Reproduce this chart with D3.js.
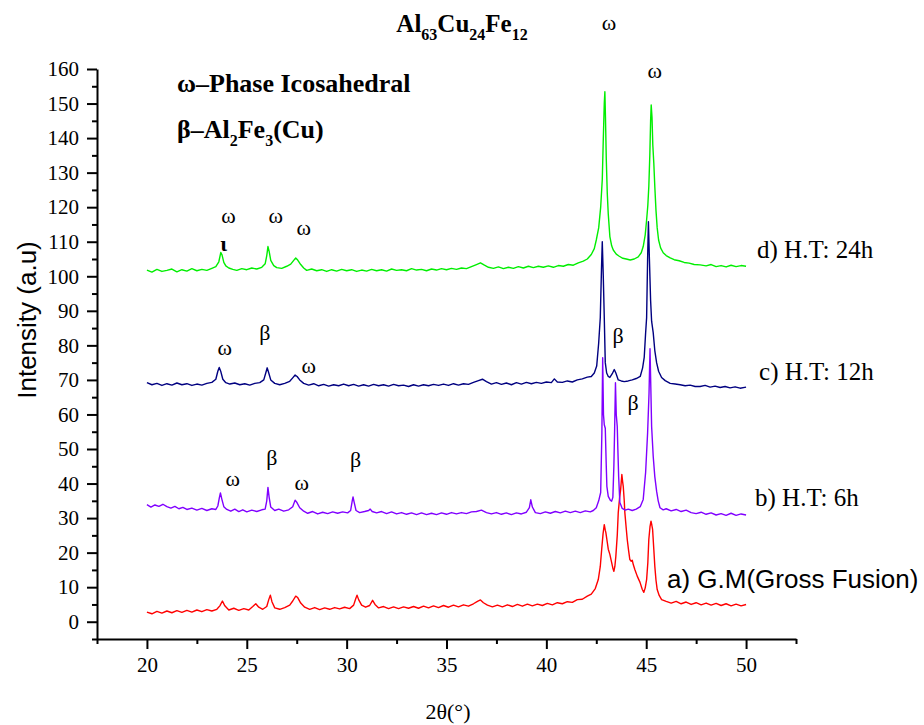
<!DOCTYPE html>
<html>
<head>
<meta charset="utf-8">
<script src="https://cdn.jsdelivr.net/npm/d3@7"></script>
<style>
body{margin:0;background:#fff;}
svg{display:block;}
</style>
</head>
<body>
<svg id="chart" width="924" height="725"></svg>
<script>
// 2theta / intensity
const series_a = [[20,2.8],[20.25,2.3],[20.5,3.0],[20.75,2.5],[21,3.1],[21.25,2.6],[21.5,3.2],[21.75,2.7],[22,3.3],[22.25,2.8],[22.5,3.4],[22.75,2.9],[23,3.5],[23.25,3.1],[23.5,3.6],[23.65,4.6],[23.78,6.0],[23.9,4.6],[24.1,3.4],[24.35,3.9],[24.6,3.3],[24.85,3.8],[25.1,3.4],[25.3,4.4],[25.45,5.2],[25.6,4.2],[25.8,3.6],[26.0,4.4],[26.1,6.4],[26.18,7.7],[26.26,5.8],[26.4,4.0],[26.65,3.6],[26.9,4.1],[27.15,4.8],[27.3,6.0],[27.45,7.4],[27.55,7.0],[27.7,5.4],[27.9,4.2],[28.15,3.6],[28.4,4.1],[28.65,3.5],[28.9,4.0],[29.15,3.6],[29.4,4.1],[29.65,3.7],[29.9,4.2],[30.15,3.8],[30.35,4.8],[30.45,6.6],[30.52,7.7],[30.6,6.4],[30.75,4.8],[30.95,4.2],[31.15,4.7],[31.3,6.2],[31.42,5.0],[31.6,4.0],[31.85,4.4],[32.1,3.8],[32.35,4.3],[32.6,3.8],[32.85,4.3],[33.1,3.9],[33.35,4.4],[33.6,3.9],[33.85,4.5],[34.1,4.0],[34.35,4.6],[34.6,4.1],[34.85,4.7],[35.1,4.2],[35.35,4.8],[35.6,4.3],[35.85,4.9],[36.1,4.5],[36.35,5.2],[36.55,5.9],[36.7,6.3],[36.85,5.5],[37.05,4.8],[37.3,4.3],[37.55,4.8],[37.8,4.3],[38.05,4.9],[38.3,4.4],[38.55,5.0],[38.8,4.5],[39.05,5.1],[39.3,4.6],[39.55,5.1],[39.8,4.7],[40.05,5.3],[40.3,4.9],[40.55,5.5],[40.8,5.2],[41.05,5.8],[41.3,5.6],[41.55,6.4],[41.8,6.5],[42.05,7.4],[42.25,8.0],[42.45,9.6],[42.6,12.2],[42.7,16.0],[42.77,20.9],[42.84,25.5],[42.9,28.1],[42.95,26.5],[42.98,25.8],[43.05,23.0],[43.1,21.0],[43.18,19.5],[43.27,17.1],[43.33,15.5],[43.38,14.6],[43.43,16.0],[43.48,19.0],[43.55,25.0],[43.6,31.6],[43.67,36.0],[43.72,38.3],[43.78,42.6],[43.82,40.5],[43.85,39.2],[43.9,35.0],[43.93,31.6],[44.0,27.0],[44.05,23.8],[44.12,20.5],[44.18,18.0],[44.25,17.5],[44.3,17.8],[44.36,16.4],[44.43,15.1],[44.55,13.2],[44.69,11.4],[44.8,9.4],[44.88,8.5],[44.95,9.8],[45.02,12.2],[45.08,17.0],[45.13,23.8],[45.19,27.5],[45.24,29.1],[45.28,28.0],[45.32,26.7],[45.38,21.0],[45.43,16.1],[45.49,12.0],[45.55,9.3],[45.65,7.6],[45.77,6.4],[46.0,5.9],[46.25,5.4],[46.5,5.9],[46.75,5.2],[47.0,5.7],[47.25,5.0],[47.5,5.5],[47.75,4.9],[48.0,5.4],[48.25,4.8],[48.5,5.3],[48.75,4.7],[49.0,5.2],[49.25,4.6],[49.5,5.1],[49.75,4.6],[50,5.0]];

const series_b = [[20,33.9],[20.2,33.2],[20.4,33.8],[20.6,33.4],[20.8,34.0],[21.0,33.3],[21.2,32.9],[21.4,33.4],[21.6,32.7],[21.8,33.1],[22.0,32.5],[22.25,32.9],[22.5,32.3],[22.75,32.8],[23.0,32.2],[23.25,32.7],[23.45,32.5],[23.55,33.5],[23.63,36.0],[23.68,37.3],[23.75,35.5],[23.85,33.3],[24.0,32.5],[24.2,32.0],[24.4,32.6],[24.6,31.9],[24.8,32.4],[25.0,31.8],[25.25,32.3],[25.5,31.9],[25.75,32.4],[25.92,32.6],[26.0,35.0],[26.06,38.9],[26.12,36.0],[26.2,33.2],[26.4,32.2],[26.6,32.6],[26.85,32.0],[27.1,32.4],[27.3,33.3],[27.42,35.2],[27.5,34.6],[27.65,33.0],[27.85,32.0],[28.05,31.4],[28.3,31.9],[28.55,31.2],[28.8,31.7],[29.05,31.3],[29.3,31.8],[29.55,31.4],[29.8,31.8],[30.05,31.5],[30.2,32.2],[30.28,35.0],[30.32,36.1],[30.38,34.5],[30.47,32.2],[30.65,31.6],[30.9,31.9],[31.1,32.2],[31.18,32.6],[31.28,31.9],[31.5,31.5],[31.75,31.9],[32.0,31.3],[32.25,31.8],[32.5,31.2],[32.75,31.6],[33.0,31.1],[33.25,31.5],[33.5,31.0],[33.75,31.5],[34.0,31.0],[34.25,31.4],[34.5,31.0],[34.75,31.5],[35.0,31.1],[35.25,31.6],[35.5,31.2],[35.75,31.6],[36.0,31.3],[36.25,31.8],[36.5,31.9],[36.75,32.3],[37.0,31.6],[37.25,31.2],[37.5,31.6],[37.75,31.1],[38.0,31.5],[38.25,31.0],[38.5,31.5],[38.75,31.2],[39.0,31.7],[39.15,33.0],[39.22,35.3],[39.3,33.2],[39.45,31.6],[39.7,31.3],[39.95,31.8],[40.2,31.4],[40.45,31.9],[40.7,31.5],[40.95,32.0],[41.2,31.6],[41.45,32.0],[41.7,31.6],[41.95,32.1],[42.2,31.8],[42.35,32.2],[42.5,33.0],[42.62,35.0],[42.72,37.4],[42.78,54.7],[42.82,76.4],[42.86,60.0],[42.9,57.0],[42.95,56.0],[43.0,45.0],[43.03,39.2],[43.1,36.3],[43.2,35.2],[43.27,34.9],[43.33,36.0],[43.38,45.0],[43.42,56.0],[43.46,69.2],[43.5,60.0],[43.55,56.5],[43.58,50.0],[43.62,42.0],[43.68,34.5],[43.8,32.8],[43.95,32.3],[44.1,32.6],[44.3,32.2],[44.5,32.6],[44.7,33.3],[44.85,35.4],[44.97,43.2],[45.07,54.7],[45.14,66.0],[45.19,79.0],[45.23,68.0],[45.27,56.6],[45.35,47.9],[45.43,42.0],[45.52,37.8],[45.6,35.0],[45.69,33.0],[45.85,32.4],[46.0,32.7],[46.25,32.1],[46.5,32.5],[46.75,31.9],[47.0,32.3],[47.25,31.6],[47.5,31.3],[47.75,31.7],[48.0,31.1],[48.25,31.5],[48.5,30.9],[48.75,31.3],[49.0,30.8],[49.25,31.4],[49.5,30.8],[49.75,31.2],[50,30.9]];

const series_c = [[20,69.2],[20.25,68.6],[20.5,69.0],[20.75,68.4],[21,68.9],[21.25,68.5],[21.5,69.1],[21.75,68.6],[22,68.9],[22.25,68.4],[22.5,68.8],[22.75,68.5],[23,69.0],[23.25,69.3],[23.45,70.2],[23.55,72.5],[23.62,73.6],[23.7,72.4],[23.8,70.2],[23.95,69.2],[24.15,68.8],[24.4,69.1],[24.65,68.6],[24.9,68.9],[25.15,68.5],[25.4,69.0],[25.65,69.2],[25.85,70.0],[25.95,72.0],[26.02,73.5],[26.1,72.0],[26.2,70.0],[26.4,69.0],[26.65,68.6],[26.9,69.0],[27.15,69.6],[27.3,70.6],[27.42,71.4],[27.52,71.0],[27.65,70.0],[27.85,69.0],[28.1,68.5],[28.35,68.9],[28.6,68.3],[28.85,68.7],[29.1,68.2],[29.35,68.6],[29.6,68.3],[29.85,68.8],[30.1,68.3],[30.35,68.7],[30.6,68.2],[30.85,68.6],[31.1,68.2],[31.35,68.7],[31.6,68.3],[31.85,68.6],[32.1,68.2],[32.35,68.7],[32.6,68.3],[32.85,68.5],[33.1,68.1],[33.35,68.6],[33.6,68.2],[33.85,68.6],[34.1,68.3],[34.35,68.7],[34.6,68.4],[34.85,68.8],[35.1,68.4],[35.35,68.9],[35.6,68.5],[35.85,68.9],[36.1,68.7],[36.35,69.3],[36.6,69.8],[36.8,70.2],[37.0,69.5],[37.25,68.8],[37.5,69.2],[37.75,68.7],[38.0,69.1],[38.25,68.6],[38.5,69.2],[38.75,68.8],[39.0,69.3],[39.25,68.9],[39.5,69.3],[39.75,69.0],[40.0,69.4],[40.25,69.2],[40.4,70.3],[40.55,69.4],[40.8,69.3],[41.05,69.7],[41.3,69.4],[41.55,70.0],[41.8,70.3],[42.05,70.8],[42.25,71.0],[42.4,72.0],[42.52,74.0],[42.62,80.7],[42.7,88.0],[42.76,102.0],[42.8,110.0],[42.85,100.0],[42.9,88.0],[42.95,75.0],[43.02,72.0],[43.1,71.0],[43.18,70.7],[43.3,71.8],[43.4,73.0],[43.48,72.0],[43.6,70.0],[43.75,69.7],[43.9,69.5],[44.1,69.7],[44.3,70.0],[44.5,70.4],[44.7,71.0],[44.82,73.5],[44.9,76.5],[44.97,83.6],[45.02,88.0],[45.07,105.0],[45.11,115.8],[45.16,105.0],[45.22,93.0],[45.27,87.0],[45.35,83.7],[45.43,78.5],[45.52,75.0],[45.62,72.5],[45.77,70.7],[45.95,69.8],[46.2,69.0],[46.45,68.8],[46.7,68.6],[46.95,68.3],[47.2,68.5],[47.45,68.1],[47.7,68.1],[47.95,68.4],[48.2,67.9],[48.45,68.2],[48.7,67.8],[48.95,68.1],[49.2,67.7],[49.45,68.0],[49.7,67.6],[50,67.9]];

const series_d = [[20,101.8],[20.25,101.2],[20.5,102.0],[20.75,101.4],[21,101.7],[21.25,102.1],[21.5,101.3],[21.75,101.9],[22,101.5],[22.25,102.2],[22.5,101.6],[22.75,102.0],[23,101.7],[23.25,102.3],[23.45,102.8],[23.6,104.2],[23.7,106.9],[23.76,106.2],[23.85,104.0],[23.95,103.0],[24.1,102.4],[24.3,102.0],[24.5,101.7],[24.75,102.2],[25,101.9],[25.25,102.4],[25.5,102.1],[25.75,102.6],[25.92,103.6],[26.0,106.0],[26.06,108.6],[26.12,107.2],[26.2,104.6],[26.35,103.1],[26.5,102.5],[26.75,102.3],[27,102.9],[27.2,103.5],[27.35,104.6],[27.45,105.3],[27.55,104.7],[27.7,103.4],[27.85,102.4],[28,101.7],[28.25,102.1],[28.5,101.6],[28.75,101.9],[29,101.4],[29.25,101.9],[29.5,101.5],[29.75,102.0],[30,101.6],[30.25,101.9],[30.5,101.4],[30.75,101.8],[31,101.5],[31.25,102.0],[31.5,101.6],[31.75,101.9],[32,101.5],[32.25,102.1],[32.5,101.7],[32.75,101.9],[33,101.6],[33.25,102.2],[33.5,101.8],[33.75,102.0],[34,101.6],[34.25,102.1],[34.5,101.8],[34.75,102.2],[35,101.9],[35.25,102.3],[35.5,102.0],[35.75,102.4],[36,102.2],[36.25,102.8],[36.5,103.4],[36.7,103.9],[36.9,103.2],[37.1,102.6],[37.35,102.3],[37.6,102.7],[37.85,102.2],[38.1,102.6],[38.35,102.3],[38.6,102.8],[38.85,102.4],[39.1,102.9],[39.35,102.5],[39.6,102.9],[39.85,102.6],[40.1,103.0],[40.35,102.6],[40.6,103.1],[40.85,102.9],[41.1,103.4],[41.35,103.2],[41.6,103.9],[41.85,104.4],[42.05,105.0],[42.25,106.3],[42.4,108.0],[42.5,110.5],[42.62,114.0],[42.72,120.0],[42.8,128.0],[42.85,139.5],[42.9,150.0],[42.93,153.4],[42.96,146.0],[43.0,134.0],[43.05,124.0],[43.1,118.0],[43.18,111.5],[43.27,108.8],[43.35,107.6],[43.5,106.4],[43.65,105.8],[43.83,105.2],[44.0,105.0],[44.2,104.7],[44.4,105.0],[44.6,105.6],[44.75,106.8],[44.85,108.6],[44.95,112.0],[45.02,116.3],[45.08,120.5],[45.13,126.0],[45.18,135.0],[45.22,145.0],[45.25,149.6],[45.29,146.0],[45.33,138.0],[45.38,132.8],[45.43,126.0],[45.49,119.0],[45.55,114.0],[45.62,110.5],[45.72,108.2],[45.85,106.8],[46.0,106.0],[46.2,105.3],[46.4,104.8],[46.65,104.5],[46.9,104.0],[47.15,103.8],[47.4,103.4],[47.7,103.3],[48,103.0],[48.25,103.4],[48.5,102.8],[48.75,103.1],[49,102.7],[49.25,103.2],[49.5,102.8],[49.75,103.1],[50,102.9]];

const seriesNames = ["a) G.M(Gross Fusion)", "b) H.T: 6h", "c) H.T: 12h", "d) H.T: 24h"];
const seriesColors = ["#ff0000", "#8000ff", "#000080", "#00ee00"];
// where each series label sits, in data units
const seriesLabelPos = [[46.04, 9.9], [50.45, 33.6], [50.65, 70.1], [50.55, 105.3]];

const xTicks = [20, 25, 30, 35, 40, 45, 50];
const xMinor = [17.5, 22.5, 27.5, 32.5, 37.5, 42.5, 47.5, 52.5];
const yTicks = [0, 10, 20, 30, 40, 50, 60, 70, 80, 90, 100, 110, 120, 130, 140, 150, 160];
const yMinor = [-5, 5, 15, 25, 35, 45, 55, 65, 75, 85, 95, 105, 115, 125, 135, 145, 155];

// phase marks over the peaks: [2theta, intensity, glyph]
const peakLabels = [
	[24.09, 115.5, "ω"], [26.45, 115.5, "ω"], [27.85, 112.0, "ω"], [23.84, 107.4, "ι"],
	[43.13, 171.3, "ω"], [45.43, 157.4, "ω"],
	[23.9, 77.3, "ω"], [25.9, 81.6, "β"], [28.1, 72.1, "ω"], [43.59, 80.8, "β"], [44.34, 61.4, "β"],
	[24.3, 39.4, "ω"], [26.25, 45.5, "β"], [27.75, 38.0, "ω"], [30.45, 44.9, "β"]
];

const serif = "'Liberation Serif','Times New Roman',serif";
const sans = "'Liberation Sans',Arial,sans-serif";

const drawChart = (svg_name) => {
	let chart = d3.select(svg_name);
	let margin = {left: 97, right: 128, top: 69, bottom: 86};
	let width = +chart.attr("width");
	let height = +chart.attr("height");

	let x = d3.scaleLinear()
		.domain([17.5, 52.5])
		.range([margin.left, width - margin.right]);
	let y = d3.scaleLinear()
		.domain([-5, 160])
		.range([height - margin.bottom, margin.top]);

	addLines(chart, x, y);
	addAxes(chart, x, y, height - margin.bottom, margin.left);
	addLabels(chart, x, y);
};

const addLines = (chart, x, y) => {
	let line = d3.line().x(d => x(d[0])).y(d => y(d[1]));
	let allSeries = [series_a, series_b, series_c, series_d];
	chart.append("g").selectAll("path")
		.data(allSeries)
		.enter()
		.append("path")
			.attr("d", d => line(d))
			.attr("fill", "none")
			.attr("stroke", (d, i) => seriesColors[i])
			.attr("stroke-width", 1.4)
			.attr("stroke-linejoin", "round");
};

const addAxes = (chart, x, y, bottom, left) => {
	let xAxis = d3.axisBottom(x).tickValues(xTicks).tickSize(10).tickSizeOuter(0).tickPadding(8);
	let xMinorAxis = d3.axisBottom(x).tickValues(xMinor).tickSize(5).tickFormat("");
	let yAxis = d3.axisLeft(y).tickValues(yTicks).tickSize(10).tickSizeOuter(0).tickPadding(8);
	let yMinorAxis = d3.axisLeft(y).tickValues(yMinor).tickSize(5).tickFormat("");

	let gx = chart.append("g").attr("transform", `translate(0,${bottom})`).call(xAxis);
	chart.append("g").attr("transform", `translate(0,${bottom})`).call(xMinorAxis)
		.select(".domain").remove();
	let gy = chart.append("g").attr("transform", `translate(${left},0)`).call(yAxis);
	chart.append("g").attr("transform", `translate(${left},0)`).call(yMinorAxis)
		.select(".domain").remove();

	chart.selectAll(".domain, .tick line")
		.attr("stroke", "#000")
		.attr("stroke-width", 2);
	[gx, gy].forEach(g => {
		g.attr("font-family", serif).attr("font-size", 21);
		g.selectAll("text")
			.attr("fill", "#000")
			.style("font-family", serif)
			.style("font-size", "21px");
	});

	// axis titles
	chart.append("text")
		.attr("x", 448).attr("y", 719)
		.attr("text-anchor", "middle")
		.style("font-family", serif).style("font-size", "22px")
		.text("2θ(°)");
	chart.append("text")
		.attr("transform", "translate(36,320) rotate(-90)")
		.attr("text-anchor", "middle")
		.style("font-family", sans).style("font-size", "26px")
		.text("Intensity (a.u)");
};

// text with subscript parts: parts = [[text, isSub], ...]
const addSubText = (chart, xPos, yPos, anchor, size, subSize, parts) => {
	let t = chart.append("text")
		.attr("x", xPos).attr("y", yPos)
		.attr("text-anchor", anchor)
		.style("font-family", serif)
		.style("font-weight", "bold")
		.style("font-size", size + "px");
	let wasSub = false;
	parts.forEach(p => {
		let shift = 0;
		if (p[1] && !wasSub) shift = size * 0.3;
		if (!p[1] && wasSub) shift = -size * 0.3;
		t.append("tspan")
			.attr("dy", shift)
			.style("font-size", (p[1] ? subSize : size) + "px")
			.text(p[0]);
		wasSub = p[1];
	});
};

const addLabels = (chart, x, y) => {
	addSubText(chart, 462, 32, "middle", 25, 16,
		[["Al", false], ["63", true], ["Cu", false], ["24", true], ["Fe", false], ["12", true]]);
	addSubText(chart, 177, 92, "start", 26, 16, [["ω–Phase Icosahedral", false]]);
	addSubText(chart, 177, 138, "start", 26, 16,
		[["β–Al", false], ["2", true], ["Fe", false], ["3", true], ["(Cu)", false]]);

	chart.append("g").selectAll("text")
		.data(peakLabels)
		.enter()
		.append("text")
			.attr("x", d => x(d[0]))
			.attr("y", d => y(d[1]))
			.attr("text-anchor", "middle")
			.style("font-family", serif)
			.style("font-size", "22px")
			.style("font-weight", d => d[2] == "ι" ? "bold" : "normal")
			.text(d => d[2]);

	chart.append("g").selectAll("text")
		.data(seriesNames)
		.enter()
		.append("text")
			.attr("x", (d, i) => x(seriesLabelPos[i][0]))
			.attr("y", (d, i) => y(seriesLabelPos[i][1]))
			.style("font-family", (d, i) => i == 0 ? sans : serif)
			.style("font-size", (d, i) => i == 0 ? "26px" : "25px")
			.text(d => d);
};

drawChart("#chart");
</script>
</body>
</html>
